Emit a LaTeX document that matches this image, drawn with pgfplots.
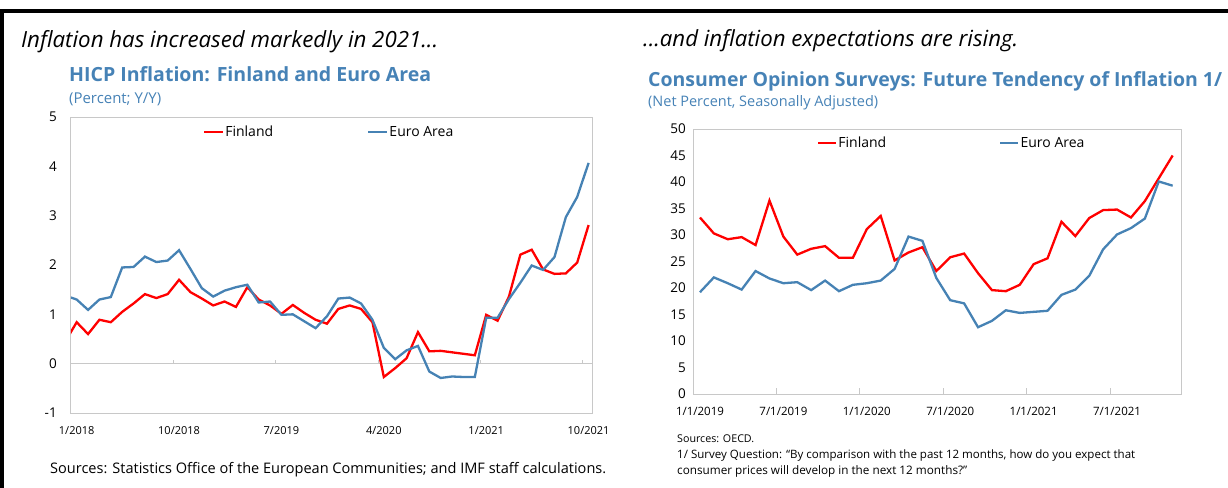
\documentclass[border=0pt]{standalone}
\usepackage{fontspec}
\setmainfont{Open Sans}
\usepackage{graphicx}
\usepackage{pgfplots}
\usepackage{pgfplotstable}
\pgfplotsset{compat=1.18}
\definecolor{eablue}{RGB}{70,130,180}
\definecolor{ttlblue}{RGB}{70,130,182}
\definecolor{fin}{RGB}{255,0,0}
\definecolor{axgray}{RGB}{200,200,200}
\newcommand{\fs}[1]{\fontsize{#1bp}{#1bp}\selectfont}
\newcommand{\fitw}[2]{\resizebox{#1bp}{!}{#2}}

\pgfplotstableread{
x fin ea
-1 0.45 1.38
0 0.84 1.30
1 0.60 1.09
2 0.89 1.30
3 0.84 1.35
4 1.05 1.95
5 1.22 1.96
6 1.41 2.17
7 1.33 2.06
8 1.41 2.09
9 1.70 2.30
10 1.45 1.92
11 1.32 1.53
12 1.18 1.36
13 1.26 1.48
14 1.15 1.55
15 1.55 1.60
16 1.30 1.24
17 1.18 1.26
18 1.01 0.99
19 1.19 1.00
20 1.03 0.86
21 0.89 0.72
22 0.81 0.96
23 1.11 1.32
24 1.18 1.34
25 1.11 1.22
26 0.84 0.89
27 -0.27 0.32
28 -0.09 0.09
29 0.11 0.27
30 0.64 0.36
31 0.25 -0.16
32 0.26 -0.29
33 0.23 -0.26
34 0.20 -0.27
35 0.17 -0.27
36 0.99 0.93
37 0.87 0.93
38 1.36 1.31
39 2.21 1.64
40 2.31 1.99
41 1.91 1.90
42 1.82 2.16
43 1.83 2.97
44 2.05 3.38
45 2.81 4.07
}\hicp

\pgfplotstableread{
x fin ea
0.5 33.3 19.2
1.5 30.3 22.0
2.5 29.2 20.9
3.5 29.6 19.7
4.5 28.1 23.2
5.5 36.5 21.8
6.5 29.7 20.9
7.5 26.3 21.1
8.5 27.4 19.6
9.5 27.9 21.4
10.5 25.7 19.4
11.5 25.7 20.6
12.5 31.1 20.9
13.5 33.6 21.4
14.5 25.2 23.6
15.5 26.7 29.7
16.5 27.7 28.9
17.5 23.2 21.9
18.5 25.8 17.7
19.5 26.5 17.1
20.5 22.8 12.6
21.5 19.6 13.8
22.5 19.4 15.8
23.5 20.6 15.3
24.5 24.5 15.5
25.5 25.6 15.7
26.5 32.5 18.7
27.5 29.8 19.7
28.5 33.2 22.3
29.5 34.7 27.3
30.5 34.8 30.1
31.5 33.3 31.3
32.5 36.4 33.1
33.5 40.7 40.1
34.5 45.0 39.3
}\survey

\begin{document}
\begin{tikzpicture}
\path[use as bounding box] (0bp,0bp) rectangle (1228bp,-488bp);
% frame
\fill[black] (0bp,-9bp) rectangle (1228bp,-13bp);
\fill[black] (0bp,-9bp) rectangle (4bp,-488bp);

% headers
\node[anchor=base west, inner sep=0pt] at (21bp,-47bp) {\fitw{417}{\fs{20}\itshape Inflation has increased markedly in 2021...}};
\node[anchor=base west, inner sep=0pt] at (643bp,-46bp) {\fitw{375}{\fs{20}\itshape ...and inflation expectations are rising.}};

% titles
\node[anchor=base west, inner sep=0pt, text=ttlblue] at (69bp,-81bp) {\fitw{362}{\fs{20}\bfseries HICP Inflation: Finland and Euro Area}};
\node[anchor=base west, inner sep=0pt, text=ttlblue] at (69bp,-103bp) {\fitw{92}{\fs{14}(Percent; Y/Y)}};
\node[anchor=base west, inner sep=0pt, text=ttlblue] at (648bp,-86bp) {\fitw{574}{\fs{20}\bfseries Consumer Opinion Surveys: Future Tendency of Inflation 1/}};
\node[anchor=base west, inner sep=0pt, text=ttlblue] at (648bp,-106bp) {\fitw{230}{\fs{14}(Net Percent, Seasonally Adjusted)}};

% sources
\node[anchor=base west, inner sep=0pt] at (50bp,-473bp) {\fitw{556}{\fs{14}Sources: Statistics Office of the European Communities; and IMF staff calculations.}};
\node[anchor=base west, inner sep=0pt] at (677bp,-442bp) {\fitw{77}{\fs{11.5}Sources: OECD.}};
\node[anchor=base west, inner sep=0pt] at (677bp,-458bp) {\fitw{458}{\fs{11.5}1/ Survey Question: ``By comparison with the past 12 months, how do you expect that}};
\node[anchor=base west, inner sep=0pt] at (677bp,-474bp) {\fitw{290}{\fs{11.5}consumer prices will develop in the next 12 months?''}};

% left chart
\begin{axis}[
  at={(71bp,-117bp)}, anchor=north west, scale only axis,
  width=521bp, height=296bp,
  xmin=-0.5, xmax=45.3, ymin=-1, ymax=5,
  ytick={-1,0,1,2,3,4,5},
  xtick={0,9,18,27,36,45},
  xticklabels={1/2018,10/2018,7/2019,4/2020,1/2021,10/2021},
  major tick length=0pt,
  axis line style={axgray, line width=1bp},
  /pgf/number format/assume math mode=true,
  yticklabel style={font=\fs{13.5}, inner sep=0pt, xshift=-14bp},
  xticklabel style={font=\fs{11}, inner sep=0pt, yshift=-13bp},
  legend style={draw=none, fill=none, at={(0.253,0.949)}, anchor=west,
    inner sep=0pt, font=\fs{14}, nodes={inner sep=1bp},
    /tikz/every even column/.append style={column sep=93bp}},
  legend columns=2,
  legend cell align=left,
  legend image code/.code={\draw[#1] (0bp,0bp) -- (19bp,0bp);},
]
\draw[axgray, line width=1bp] (axis cs:-0.5,0) -- (axis cs:45.3,0);
\draw[axgray, line width=1bp] (axis cs:8.5,0) -- ++(0bp,4bp);
\draw[axgray, line width=1bp] (axis cs:17.5,0) -- ++(0bp,4bp);
\draw[axgray, line width=1bp] (axis cs:26.5,0) -- ++(0bp,4bp);
\draw[axgray, line width=1bp] (axis cs:35.5,0) -- ++(0bp,4bp);
\draw[axgray, line width=1bp] (axis cs:44.5,0) -- ++(0bp,4bp);
\addplot[fin, line width=2.3bp] table[x=x, y=fin] {\hicp};
\addlegendentry{Finland}
\addplot[eablue, line width=2.3bp] table[x=x, y=ea] {\hicp};
\addlegendentry{Euro Area}
\end{axis}

% right chart
\begin{axis}[
  at={(693bp,-129bp)}, anchor=north west, scale only axis,
  width=488bp, height=265bp,
  xmin=0, xmax=35.1, ymin=0, ymax=50,
  ytick={0,5,...,50},
  xtick={0.5,6.5,12.5,18.5,24.5,30.5},
  xticklabels={1/1/2019,7/1/2019,1/1/2020,7/1/2020,1/1/2021,7/1/2021},
  major tick length=0pt,
  extra x ticks={6,12,18,24,30},
  extra x tick labels={},
  extra x tick style={major tick length=6bp, tick align=inside, tick style={axgray, line width=1bp}},
  xtick pos=bottom,
  axis line style={axgray, line width=1bp},
  /pgf/number format/assume math mode=true,
  yticklabel style={font=\fs{13.5}, inner sep=0pt, xshift=-7bp},
  xticklabel style={font=\fs{11.5}, inner sep=0pt, yshift=-13bp},
  legend style={draw=none, fill=none, at={(0.254,0.947)}, anchor=west,
    inner sep=0pt, font=\fs{14}, nodes={inner sep=1bp},
    /tikz/every even column/.append style={column sep=112bp}},
  legend columns=2,
  legend cell align=left,
  legend image code/.code={\draw[#1] (0bp,0bp) -- (18bp,0bp);},
]
\addplot[fin, line width=2.3bp] table[x=x, y=fin] {\survey};
\addlegendentry{Finland}
\addplot[eablue, line width=2.3bp] table[x=x, y=ea] {\survey};
\addlegendentry{Euro Area}
\end{axis}
\end{tikzpicture}
\end{document}
